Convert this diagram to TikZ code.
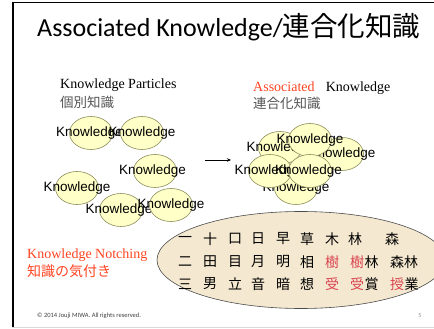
\documentclass[tikz,border=0pt]{standalone}
\usepackage{fontspec}
\setmainfont{Liberation Serif}
\newfontfamily\arialf{Liberation Sans}
\newfontfamily\calib{Carlito}
\newfontfamily\cjk{Noto Sans CJK JP}
\usetikzlibrary{shapes.geometric,arrows.meta}
\definecolor{kfill}{HTML}{FFFFC8}
\definecolor{kline}{HTML}{8C8C5A}
\definecolor{parch}{HTML}{F4E8D0}
\definecolor{hred}{HTML}{FF4422}
\definecolor{kred}{HTML}{D9434E}
\definecolor{cgray}{HTML}{555555}
\tikzset{
  kell/.style={ellipse, draw=kline, line width=0.6pt, fill=kfill, minimum width=43pt, minimum height=33pt, inner sep=0pt,
    font=\arialf\fontsize{13.5}{15}\selectfont},
  lbl/.style={anchor=west, inner sep=0pt, font=\fontsize{14}{16}\selectfont},
  cjklbl/.style={anchor=west, inner sep=0pt, text=cgray, font=\cjk\fontsize{13.5}{15}\selectfont},
  kanji/.style={inner sep=0pt, font=\cjk\fontsize{14}{16}\selectfont}
}
\begin{document}
\begin{tikzpicture}[x=1pt,y=-1pt]
\useasboundingbox (0,0) rectangle (434,329);
\clip (0,0) rectangle (434,329);
\fill[white] (0,0) rectangle (434,329);
% frame
\draw[black, line width=1.5pt] (12,2.5) -- (434,2.5);
\draw[black, line width=2pt] (13,2) -- (13,328);
\draw[black!15, line width=1pt] (12,327.5) -- (434,327.5);
% title
\node[anchor=base west, inner sep=0pt] (title) at (37,37) {\calib\fontsize{26}{30}\selectfont Associated Knowledge/\cjk\fontsize{27.5}{30}\selectfont 連合化知識};
% headings
\node[lbl] (kp) at (60,85) {Knowledge Particles};
\node[cjklbl] (kpj) at (60,102) {個別知識};
\node[lbl] (ak) at (253,88) {\textcolor{hred}{Associated}\hspace{0.8em}Knowledge};
\node[cjklbl] (akj) at (253,103) {連合化知識};
\node[lbl, text=hred] (kn) at (27,255) {Knowledge Notching};
\node[cjklbl, text=hred, font=\cjk\fontsize{14}{16}\selectfont] (knj) at (27,271) {知識の気付き};
% left particles
\node[kell] (l1) at (91,133) {\makebox[0pt]{\hspace{-3pt}Knowledge}};
\node[kell] (l2) at (142,133) {\makebox[0pt]{Knowledge}};
\node[kell] (l3) at (155,171) {\makebox[0pt]{\hspace{-5pt}Knowledge}};
\node[kell] (l4) at (77,188) {\makebox[0pt]{Knowledge}};
\node[kell] (l5) at (121,210) {\makebox[0pt]{\hspace{-4pt}Knowledge}};
\node[kell] (l6) at (171,205) {\makebox[0pt]{Knowledge}};
% arrow
\coordinate (a1) at (205,160);
\coordinate (a2) at (231,160);
\draw[line width=1pt, -{Stealth[length=4pt,width=3.5pt]}] (a1) -- (a2);
% right cluster
\node[kell] (rf) at (296,188) {\makebox[0pt]{Knowledge}};
\node[kell] (ra) at (280,148) {\makebox[0pt]{Knowledge}};
\node[kell] (rc) at (342,154) {\makebox[0pt]{Knowledge}};
\node[kell] (rb) at (310,140) {\makebox[0pt]{Knowledge}};
\node[kell] (rd) at (270,171) {\makebox[0pt]{\hspace{-4pt}Knowledge}};
\node[kell] (re) at (310,171) {\makebox[0pt]{\hspace{-3pt}Knowledge}};
% big ellipse
\node[ellipse, draw=black!70, line width=0.6pt, fill=parch, minimum width=288pt, minimum height=97pt, inner sep=0pt] (big) at (301,260) {};
% kanji table
\foreach \x/\c/\col [count=\i] in {185/一/black,210/十/black,235/口/black,258/日/black,283/早/black,307/草/black,332/木/black,355/林/black,392/森/black}
  \node[kanji, text=\col] (ka\i) at (\x,239) {\c};
\foreach \x/\c/\col [count=\i] in {185/二/black,210/田/black,235/目/black,258/月/black,283/明/black,307/相/black,332/樹/kred,357/樹/kred,371.5/林/black,397/森/black,411/林/black}
  \node[kanji, text=\col] (kb\i) at (\x,262) {\c};
\foreach \x/\c/\col [count=\i] in {185/三/black,210/男/black,235/立/black,258/音/black,283/暗/black,307/想/black,332/受/kred,357/受/kred,371.5/賞/black,397/授/kred,411.5/業/black}
  \node[kanji, text=\col] (kc\i) at (\x,284) {\c};
% footer
\node[anchor=west, inner sep=0pt, text=black!75] (foot) at (37,316) {\calib\fontsize{6.5}{8}\selectfont © 2014 Jouji MIWA. All rights reserved.};
\node[inner sep=0pt, text=black!45] (pg) at (420,316) {\calib\fontsize{6}{8}\selectfont 5};
\end{tikzpicture}
\end{document}
